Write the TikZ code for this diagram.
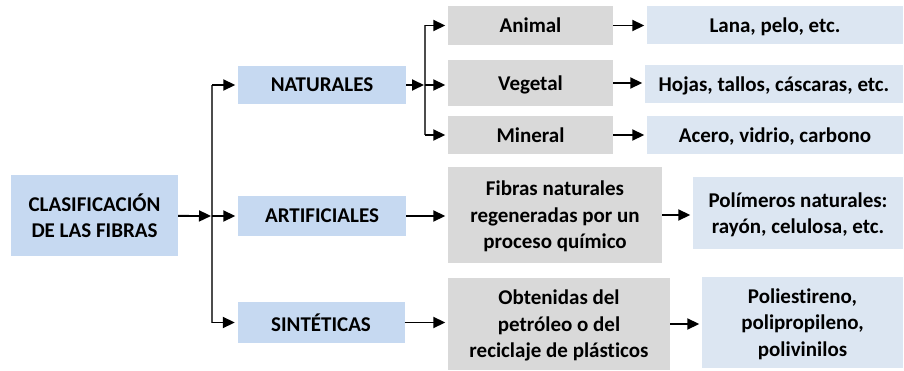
\documentclass[tikz,border=0pt]{standalone}
\usepackage{fontspec}
\setmainfont{Carlito}[Ligatures={NoCommon}]
\usepackage{xcolor}
\usepackage{tikz}
\usetikzlibrary{arrows.meta,positioning,calc}
\definecolor{clsblue}{HTML}{C6D9F1}
\definecolor{clsgray}{HTML}{D9D9D9}
\definecolor{clsleaf}{HTML}{DCE6F2}
\newcommand{\boxfont}{\fontsize{21}{26.5}\selectfont\bfseries}
\tikzset{
  >={Triangle[length=12pt,width=11pt]},
  mainb/.style ={rectangle, fill=clsblue, inner sep=2pt, text depth=0pt,
                 font=\boxfont, align=center},
  midb/.style  ={rectangle, fill=clsgray, inner sep=2pt, text depth=0pt,
                 font=\boxfont, align=center},
  leafb/.style ={rectangle, fill=clsleaf, inner sep=2pt, text depth=0pt,
                 font=\boxfont, align=center},
  con/.style   ={->, draw, line width=1.8pt, black, shorten >=2.5pt},
  ln/.style    ={draw, line width=1.8pt, black!70},
}

\begin{document}
\begin{tikzpicture}[x=1pt,y=-1pt]
\useasboundingbox (0,0) rectangle (904,371);
\node[mainb, minimum width=167pt, minimum height=81pt] (root) at (94.5,215.5) {CLASIFICACIÓN\\DE LAS FIBRAS};
\node[mainb, minimum width=168pt, minimum height=38pt] (nat) at (322,85) {NATURALES};
\node[mainb, minimum width=168pt, minimum height=40pt] (art) at (322,216) {ARTIFICIALES};
\node[mainb, minimum width=167pt, minimum height=41pt] (sin) at (321,322.5) {SINTÉTICAS};
\node[midb, minimum width=165pt, minimum height=39pt] (ani) at (530.5,25.5) {Animal};
\node[midb, minimum width=165pt, minimum height=46pt] (veg) at (530.5,83) {Vegetal};
\node[midb, minimum width=165pt, minimum height=38pt] (mine) at (530.5,135) {Mineral};
\node[leafb, minimum width=256pt, minimum height=38pt] (lana) at (775,25) {Lana, pelo, etc.};
\node[leafb, minimum width=258pt, minimum height=38pt] (hoja) at (774,84) {Hojas, tallos, cáscaras, etc.};
\node[leafb, minimum width=256pt, minimum height=38pt] (acer) at (775,135) {Acero, vidrio, carbono};
\node[midb, minimum width=214pt, minimum height=96pt] (fib) at (555,215) {Fibras naturales\\regeneradas por un\\proceso químico};
\node[leafb, minimum width=210pt, minimum height=72pt] (polim) at (798,213) {Polímeros naturales:\\rayón, celulosa, etc.};
\node[midb, minimum width=222pt, minimum height=92pt] (obt) at (559,324) {Obtenidas del\\petróleo o del\\reciclaje de plásticos};
\node[leafb, minimum width=201pt, minimum height=91pt] (polie) at (802.5,322.5) {Poliestireno,\\polipropileno,\\polivinilos};
\coordinate (tr1) at (212,216);
\coordinate (tr2) at (425,85);
% first split
\draw[con, shorten >=1pt] (root) -- (tr1);
\draw[ln] (tr1 |- nat) -- (tr1 |- sin);
\draw[con] (tr1 |- nat) -- (nat);
\draw[con] (tr1) -- (art);
\draw[con] (tr1 |- sin) -- (sin);
% natural fibres
\draw[con, shorten >=1pt] (nat) -- (tr2);
\draw[ln] (tr2 |- ani) -- (tr2 |- mine);
\draw[con] (tr2 |- ani) -- (ani);
\draw[con] (tr2) -- (tr2 -| veg.west);
\draw[con] (tr2 |- mine) -- (mine);
\draw[con] (ani) -- (ani -| lana.west);
\draw[con] (veg) -- (veg -| hoja.west);
\draw[con] (mine) -- (mine -| acer.west);
% artificial and synthetic
\draw[con] (art) -- (art -| fib.west);
\draw[con] (fib) -- (fib -| polim.west);
\draw[con] (sin) -- (sin -| obt.west);
\draw[con] (obt) -- (obt -| polie.west);
\end{tikzpicture}
\end{document}
